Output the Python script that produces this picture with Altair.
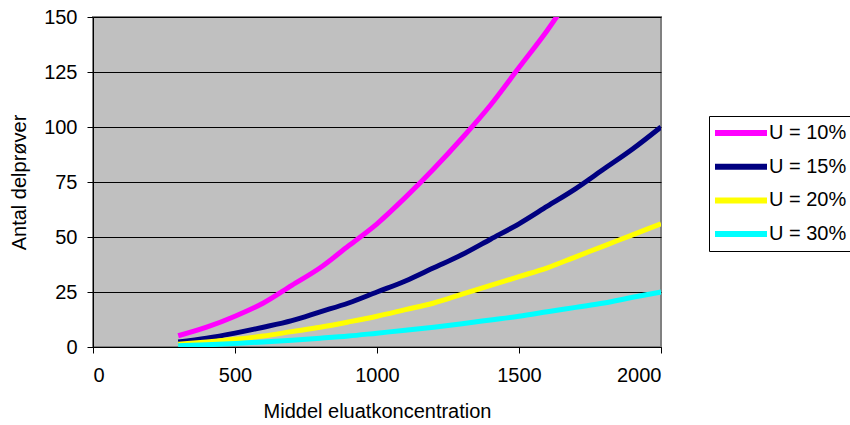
import altair as alt
import pandas as pd

x_vals = [300, 400, 500, 600, 700, 800, 900, 1000, 1100, 1200, 1300, 1400,
          1500, 1600, 1700, 1800, 1900, 2000]
u10 = [5.1, 9, 14, 20, 28, 36, 46, 56, 68, 81, 95, 110, 127, 144, 163, 182, 203, 225]
u15 = [2.3, 4, 6.3, 9, 12, 16, 20, 25, 30, 36, 42, 49, 56, 64, 72, 81, 90, 100]
u20 = [1.3, 2.3, 3.5, 5, 7, 9, 11.4, 14, 17, 20, 24, 28, 32, 36, 41, 46, 51, 56]
u30 = [0.6, 1, 1.6, 2.3, 3.1, 4, 5, 6.3, 7.6, 9, 10.6, 12.3, 14, 16, 18, 20, 22.6, 25]
series_names = ["U = 10%", "U = 15%", "U = 20%", "U = 30%"]
series_colors = ["#FF00FF", "#000080", "#FFFF00", "#00FFFF"]
x_ticks = [0, 500, 1000, 1500, 2000]
y_ticks = [0, 25, 50, 75, 100, 125, 150]

rows = []
for name, vals in zip(series_names, [u10, u15, u20, u30]):
    for xv, yv in zip(x_vals, vals):
        rows.append({"x": xv, "y": yv, "serie": name})
df = pd.DataFrame(rows)

FONT = "Liberation Sans"
FS = 20

chart = alt.Chart(df).mark_line(strokeWidth=5, clip=True, interpolate="monotone").encode(
    x=alt.X("x:Q", scale=alt.Scale(domain=[0, 2000], nice=False),
            axis=alt.Axis(values=x_ticks, format="d", title="Middel eluatkoncentration",
                          grid=False, tickSize=6, labelPadding=12,
                          titlePadding=16, domainColor="black", tickColor="black")),
    y=alt.Y("y:Q", scale=alt.Scale(domain=[0, 150], nice=False),
            axis=alt.Axis(values=y_ticks, format="d", title="Antal delprøver",
                          grid=True, gridColor="black", gridWidth=1,
                          tickSize=6, labelPadding=10, titlePadding=14,
                          domainColor="black", tickColor="black")),
    color=alt.Color("serie:N",
                    scale=alt.Scale(domain=series_names, range=series_colors),
                    legend=alt.Legend(title=None, orient="none", legendX=616, legendY=99,
                                      symbolType="M-1.1,0H4.1", symbolSize=400,
                                      symbolStrokeWidth=6, labelOffset=30,
                                      fillColor="white", strokeColor="black",
                                      padding=4, rowPadding=8.7)),
).properties(
    width=568, height=330,
    autosize=alt.AutoSizeParams(type="none"),
    padding={"left": 93, "top": 17, "right": 189, "bottom": 78},
).configure_view(
    fill="#C0C0C0", stroke="#808080", strokeWidth=2
).configure_axis(
    labelFont=FONT, titleFont=FONT, labelFontSize=FS, titleFontSize=FS,
    labelColor="black", titleColor="black", titleFontWeight="normal",
).configure_legend(
    labelFont=FONT, labelFontSize=FS, labelColor="black"
)

chart.save("out.html", embed_options={"renderer": "svg", "actions": False})
